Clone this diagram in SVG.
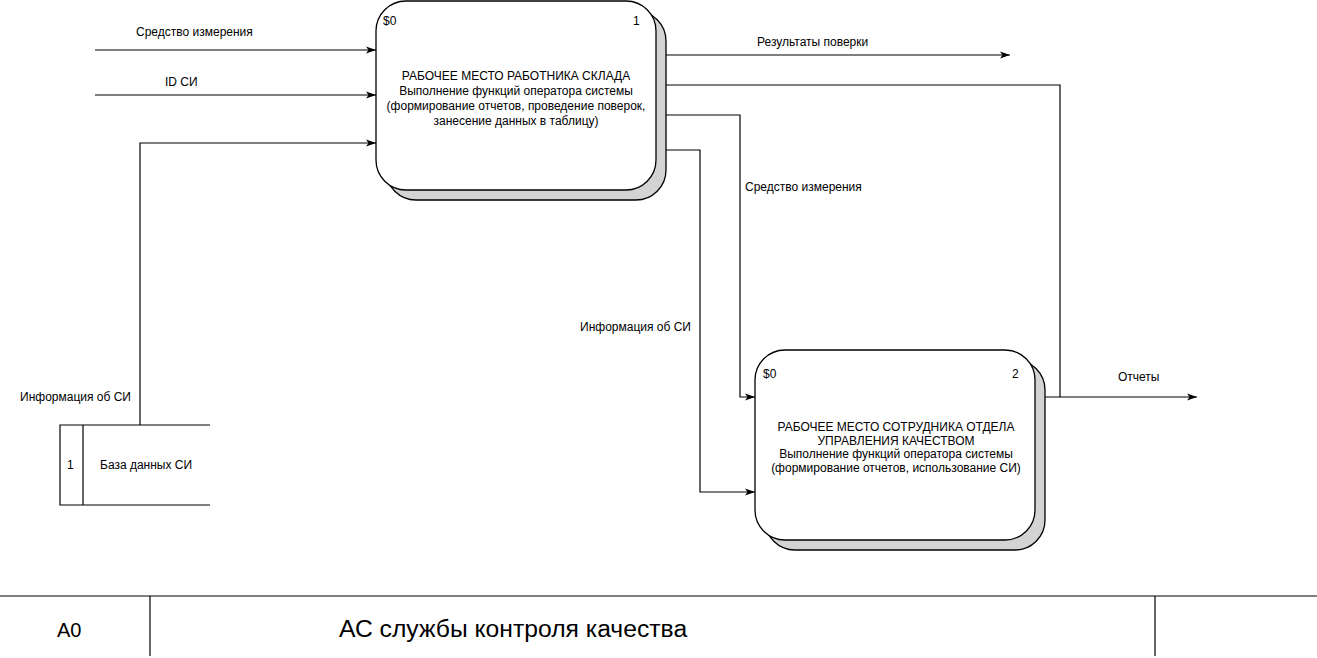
<svg xmlns="http://www.w3.org/2000/svg" width="1317" height="658" viewBox="0 0 1317 658">
<style>
text{font-family:"Liberation Sans",Arial,sans-serif;fill:#000}
.lbl{font-size:12px}
.c{text-anchor:middle}
.box{fill:#fff;stroke:#000;stroke-width:1.3}
.shadow{fill:#d3d3d3;stroke:#000;stroke-width:1.3}
.ln{fill:none;stroke:#000;stroke-width:1.2}
.ft{font-size:24.7px}
</style>
<defs>
<marker id="ah" viewBox="0 0 10 10" refX="10" refY="5" markerWidth="10" markerHeight="10" markerUnits="userSpaceOnUse" orient="auto">
<path d="M0,1.5 L10,5 L0,8.5 L2.5,5 Z" fill="#000"/>
</marker>
</defs>
<rect width="1317" height="658" fill="#fff"/>
<g id="connectors">
<path class="ln" d="M95,50 H376" marker-end="url(#ah)"/>
<path class="ln" d="M95,95 H376" marker-end="url(#ah)"/>
<path class="ln" d="M140,425 V143 H376" marker-end="url(#ah)"/>
<path class="ln" d="M655,55 H1010" marker-end="url(#ah)"/>
<path class="ln" d="M655,85 H1060 V397"/>
<path class="ln" d="M655,115 H740 V397 H755" marker-end="url(#ah)"/>
<path class="ln" d="M655,150 H700 V492 H755" marker-end="url(#ah)"/>
<path class="ln" d="M1035,397 H1197" marker-end="url(#ah)"/>
<text class="lbl" x="136" y="36">Средство измерения</text>
<text class="lbl" x="165" y="86">ID СИ</text>
<text class="lbl" x="757" y="46">Результаты поверки</text>
<text class="lbl" x="745" y="191">Средство измерения</text>
<text class="lbl" x="580" y="331">Информация об СИ</text>
<text class="lbl" x="20" y="401">Информация об СИ</text>
<text class="lbl" x="1118" y="381">Отчеты</text>
</g>
<g id="node1">
<rect class="shadow" x="386" y="11" width="280" height="189" rx="30" ry="30"/>
<rect class="box" x="376" y="1" width="280" height="189" rx="30" ry="30"/>
<text class="lbl" x="383" y="25">$0</text>
<text class="lbl" x="633" y="25">1</text>
<text class="lbl c" x="516" y="80">РАБОЧЕЕ МЕСТО РАБОТНИКА СКЛАДА</text>
<text class="lbl c" x="516" y="95">Выполнение функций оператора системы</text>
<text class="lbl c" x="516" y="110">(формирование отчетов, проведение поверок,</text>
<text class="lbl c" x="516" y="125">занесение данных в таблицу)</text>
</g>
<g id="node2">
<rect class="shadow" x="765" y="360" width="280" height="190" rx="30" ry="30"/>
<rect class="box" x="755" y="350" width="280" height="190" rx="30" ry="30"/>
<text class="lbl" x="763" y="378">$0</text>
<text class="lbl" x="1012" y="378">2</text>
<text class="lbl c" x="896" y="431">РАБОЧЕЕ МЕСТО СОТРУДНИКА ОТДЕЛА</text>
<text class="lbl c" x="896" y="445">УПРАВЛЕНИЯ КАЧЕСТВОМ</text>
<text class="lbl c" x="896" y="458">Выполнение функций оператора системы</text>
<text class="lbl c" x="896" y="472">(формирование отчетов, использование СИ)</text>
</g>
<g id="datastore">
<path class="ln" d="M210,425 H60 V505 H210 M83,425 V505"/>
<text class="lbl" x="67" y="469">1</text>
<text class="lbl" x="100" y="469">База данных СИ</text>
</g>
<g id="footer">
<path class="ln" d="M0,596 H1317 M150,596 V656 M1155,596 V656"/>
<text class="ft" style="font-size:20px" x="57" y="637">A0</text>
<text class="ft" x="339" y="637">АС службы контроля качества</text>
</g>
</svg>
